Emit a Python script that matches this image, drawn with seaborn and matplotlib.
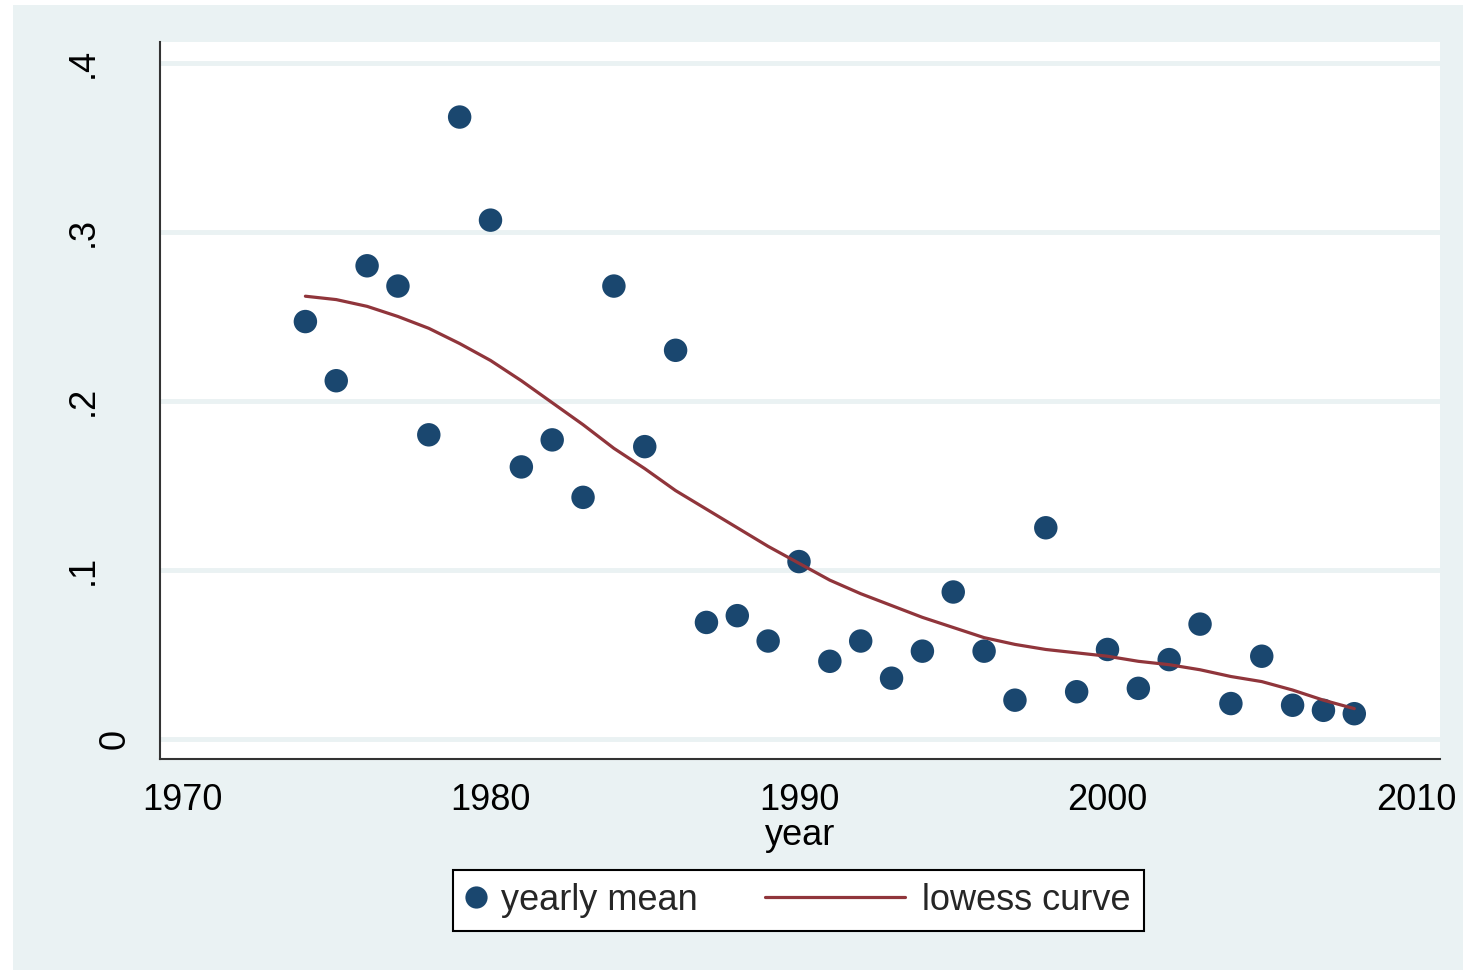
import matplotlib
matplotlib.use("Agg")
import matplotlib.pyplot as plt
import matplotlib.transforms as mtransforms
from matplotlib.patches import Rectangle
from matplotlib.lines import Line2D
from matplotlib.legend_handler import HandlerLine2D
import seaborn as sns
import pandas as pd

# ---------------- data ----------------
years = [1974, 1975, 1976, 1977, 1978, 1979, 1980, 1981, 1982, 1983,
         1984, 1985, 1986, 1987, 1988, 1989, 1990, 1991, 1992, 1993,
         1994, 1995, 1996, 1997, 1998, 1999, 2000, 2001, 2002, 2003,
         2004, 2005, 2006, 2007, 2008]
yearly_mean = [0.247, 0.212, 0.280, 0.268, 0.180, 0.368, 0.307, 0.161, 0.177, 0.143,
               0.268, 0.173, 0.230, 0.069, 0.073, 0.058, 0.105, 0.046, 0.058, 0.036,
               0.052, 0.087, 0.052, 0.023, 0.125, 0.028, 0.053, 0.030, 0.047, 0.068,
               0.021, 0.049, 0.020, 0.017, 0.015]
lowess_curve = [0.262, 0.260, 0.256, 0.250, 0.243, 0.234, 0.224, 0.212, 0.199, 0.186,
                0.172, 0.160, 0.147, 0.136, 0.125, 0.114, 0.104, 0.094, 0.086, 0.079,
                0.072, 0.066, 0.060, 0.056, 0.053, 0.051, 0.049, 0.046, 0.044, 0.041,
                0.037, 0.034, 0.029, 0.023, 0.018]
x_ticks = [1970, 1980, 1990, 2000, 2010]
y_ticks = [0, 0.1, 0.2, 0.3, 0.4]
y_tick_labels = ["0", ".1", ".2", ".3", ".4"]
x_label = "year"
legend_labels = ["yearly mean", "lowess curve"]

df = pd.DataFrame({"year": years, "mean": yearly_mean, "lowess": lowess_curve})

# ---------------- style ----------------
sns.set_style("white")
plt.rcParams["font.family"] = ["Liberation Sans", "DejaVu Sans"]

BG = "#eaf2f3"
NAVY = "#1a476f"
MAROON = "#90353b"
AXC = "#333333"
FS = 26

W, H = 1465, 973
fig = plt.figure(figsize=(W / 100, H / 100), dpi=100, facecolor="white")
fig.patches.append(Rectangle((13 / W, 3 / H), 1450 / W, 965 / H,
                             transform=fig.transFigure, facecolor=BG,
                             edgecolor="none", zorder=-10))

ax = fig.add_axes([160 / W, 214 / H, 1280 / W, 717 / H])
ax.set_facecolor("white")
ax.set_axisbelow(True)
ax.yaxis.grid(True, color=BG, lw=3.5)
ax.xaxis.grid(False)

sns.scatterplot(data=df, x="year", y="mean", ax=ax, color=NAVY, s=285,
                edgecolor="none", legend=False, zorder=3)
sns.lineplot(data=df, x="year", y="lowess", ax=ax, color=MAROON, lw=2.3,
             legend=False, zorder=4)

ax.set_xlim(1969.287, 2010.778)
ax.set_ylim(-0.0118, 0.4124)

for s in ["top", "right"]:
    ax.spines[s].set_visible(False)
for s in ["left", "bottom"]:
    ax.spines[s].set_color(AXC)
    ax.spines[s].set_linewidth(1.5)

ax.set_xticks(x_ticks)
ax.set_xticklabels([str(t) for t in x_ticks])
ax.set_yticks(y_ticks)
ax.set_yticklabels(y_tick_labels)
ax.tick_params(axis="both", length=12, width=1.5, color=AXC, labelsize=FS,
               labelcolor="black")
ax.tick_params(axis="x", pad=5)
ax.tick_params(axis="y", pad=31)

for lab in ax.get_yticklabels():
    lab.set_rotation(90)
    lab.set_va("center")
    if lab.get_text() == "0":
        off = mtransforms.ScaledTranslation(32 / 100, 0, fig.dpi_scale_trans)
        lab.set_transform(lab.get_transform() + off)

ax.set_xlabel(x_label, fontsize=FS, labelpad=0, color="black")
ax.set_ylabel("")


# ---------------- legend ----------------
class LongLineHandler(HandlerLine2D):
    def __init__(self, extra, **kw):
        super().__init__(**kw)
        self.extra = extra

    def create_artists(self, legend, orig_handle, xdescent, ydescent,
                       width, height, fontsize, trans):
        y = (height - ydescent) / 2
        line = Line2D([-xdescent - self.extra, width - xdescent], [y, y])
        self.update_prop(line, orig_handle, legend)
        line.set_transform(trans)
        return [line]


h_pt = Line2D([], [], marker="o", ls="none", color=NAVY, markersize=16,
              markeredgewidth=0)
h_ln = Line2D([], [], color=MAROON, lw=2.3)
leg = fig.legend([h_pt, h_ln], legend_labels, ncol=2, loc="center",
                 bbox_to_anchor=(798.5 / W, 72.5 / H), frameon=True,
                 fancybox=False, edgecolor="black", facecolor="white",
                 framealpha=1, fontsize=FS, handlelength=0.5,
                 handletextpad=0.45, columnspacing=5.25, borderpad=0.37,
                 handler_map={h_ln: LongLineHandler(extra=88)})
leg.get_frame().set_linewidth(1.5)

fig.savefig("out.png", dpi=100, facecolor="white")
